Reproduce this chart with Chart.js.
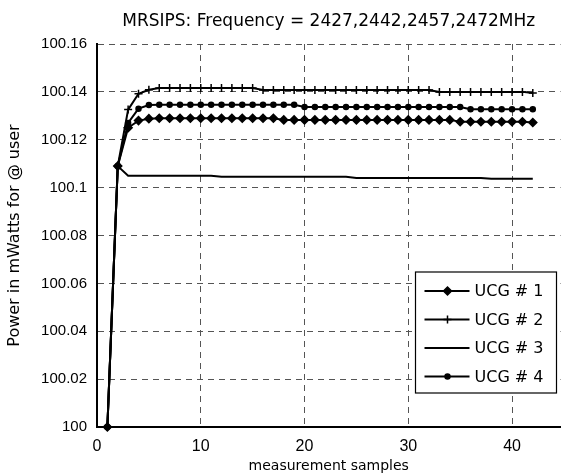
<!DOCTYPE html>
<html>
<head>
<meta charset="utf-8">
<script src="https://cdn.jsdelivr.net/npm/chart.js@4.4.1/dist/chart.umd.min.js"></script>
<style>
  html, body { margin: 0; padding: 0; background: #fff; }
  #wrap { width: 566px; height: 476px; }
</style>
</head>
<body>
<div id="wrap"><canvas id="myChart"></canvas></div>
<script>
const chartTitle = 'MRSIPS: Frequency = 2427,2442,2457,2472MHz';
const xTitle = 'measurement samples';
const yTitle = 'Power in mWatts for @ user';
const seriesNames = ['UCG # 1', 'UCG # 2', 'UCG # 3', 'UCG # 4'];
const yTickLabels = ['100', '100.02', '100.04', '100.06', '100.08', '100.1', '100.12', '100.14', '100.16'];

const samples = [1, 2, 3, 4, 5, 6, 7, 8, 9, 10, 11, 12, 13, 14, 15, 16, 17, 18, 19, 20, 21,
  22, 23, 24, 25, 26, 27, 28, 29, 30, 31, 32, 33, 34, 35, 36, 37, 38, 39, 40, 41, 42];

const ucg1 = [100, 100.109, 100.125, 100.128, 100.1288,
  100.129, 100.129, 100.129, 100.129, 100.129, 100.129, 100.129, 100.129, 100.129, 100.129, 100.129, 100.129,
  100.1283, 100.1283, 100.1283, 100.1283, 100.1283, 100.1283, 100.1283, 100.1283, 100.1283,
  100.1283, 100.1283, 100.1283, 100.1283, 100.1283, 100.1283, 100.1283, 100.1283,
  100.1275, 100.1275, 100.1275, 100.1275, 100.1275, 100.1275, 100.1275, 100.1272];

const ucg2 = [100, 100.109, 100.1326, 100.1392, 100.1409,
  100.1416, 100.1416, 100.1416, 100.1416, 100.1416, 100.1416, 100.1416, 100.1416, 100.1416, 100.1416,
  100.1408, 100.1408, 100.1408, 100.1408, 100.1408, 100.1408, 100.1408, 100.1408, 100.1408,
  100.1408, 100.1408, 100.1408, 100.1408, 100.1408, 100.1408, 100.1408, 100.1408,
  100.14, 100.14, 100.14, 100.14, 100.14, 100.14, 100.14, 100.14, 100.14, 100.1395];

const ucg3 = [100, 100.109,
  100.105, 100.105, 100.105, 100.105, 100.105, 100.105, 100.105, 100.105, 100.105,
  100.1045, 100.1045, 100.1045, 100.1045, 100.1045, 100.1045, 100.1045, 100.1045, 100.1045,
  100.1045, 100.1045, 100.1045, 100.1045,
  100.104, 100.104, 100.104, 100.104, 100.104, 100.104, 100.104, 100.104, 100.104,
  100.104, 100.104, 100.104, 100.104,
  100.1037, 100.1037, 100.1037, 100.1037, 100.1037];

const ucg4 = [100, 100.109, 100.127, 100.133, 100.1345,
  100.1346, 100.1346, 100.1346, 100.1346, 100.1346, 100.1346, 100.1346, 100.1346, 100.1346, 100.1346,
  100.1346, 100.1346, 100.1346, 100.1346,
  100.1337, 100.1337, 100.1337, 100.1337, 100.1337, 100.1337, 100.1337, 100.1337, 100.1337,
  100.1337, 100.1337, 100.1337, 100.1337, 100.1337, 100.1337, 100.1337,
  100.1327, 100.1327, 100.1327, 100.1327, 100.1327, 100.1327, 100.1327];

const textFont = '"DejaVu Sans", sans-serif';
const tickFont = '"Liberation Sans", Arial, sans-serif';

function toPoints(values) {
  return samples.map((s, i) => ({ x: s, y: values[i] }));
}

function makeSet(label, values, style, radius) {
  return {
    label: label,
    data: toPoints(values),
    borderColor: '#000',
    backgroundColor: '#000',
    borderWidth: 2,
    pointStyle: style,
    pointRadius: radius,
    pointBorderWidth: 1.5,
    pointBorderColor: '#000',
    pointBackgroundColor: '#000',
    tension: 0,
    clip: false,
  };
}

// titre et label x centrés sur la zone du graphe
const textPlugin = {
  id: 'matlabText',
  afterDraw(chart) {
    const ctx = chart.ctx;
    const area = chart.chartArea;
    const cx = (area.left + area.right) / 2;
    ctx.save();
    ctx.fillStyle = '#000';
    ctx.textAlign = 'center';
    ctx.textBaseline = 'middle';
    ctx.font = '17px ' + textFont;
    ctx.fillText(chartTitle, cx, 22);
    ctx.font = '14px ' + textFont;
    ctx.fillText(xTitle, cx, 466);
    ctx.restore();
  },
};

// légende dans un cadre en bas à droite
const boxLegend = {
  id: 'boxLegend',
  afterDraw(chart) {
    const ctx = chart.ctx;
    const area = chart.chartArea;
    const w = 141, h = 121;
    const left = area.right - 4 - w;
    const top = area.bottom - 34 - h;
    ctx.save();
    ctx.fillStyle = '#fff';
    ctx.fillRect(left, top, w, h);
    ctx.strokeStyle = '#000';
    ctx.lineWidth = 1.2;
    ctx.strokeRect(left, top, w, h);
    chart.data.datasets.forEach((ds, i) => {
      const y = top + 19 + i * 28.5;
      ctx.strokeStyle = '#000';
      ctx.lineWidth = ds.borderWidth;
      ctx.beginPath();
      ctx.moveTo(left + 9, y);
      ctx.lineTo(left + 54, y);
      ctx.stroke();
      if (ds.pointRadius > 0) {
        ctx.fillStyle = '#000';
        ctx.lineWidth = ds.pointBorderWidth;
        Chart.helpers.drawPoint(ctx, {
          pointStyle: ds.pointStyle, radius: ds.pointRadius, rotation: 0, borderWidth: ds.pointBorderWidth,
        }, left + 32, y);
      }
      ctx.fillStyle = '#000';
      ctx.font = '16px ' + textFont;
      ctx.textAlign = 'left';
      ctx.textBaseline = 'middle';
      ctx.fillText(ds.label, left + 59, y + 1);
    });
    ctx.restore();
  },
};

const ctx = document.getElementById('myChart');

const myChart = new Chart(ctx, {
  type: 'line',
  data: {
    datasets: [
      makeSet(seriesNames[0], ucg1, 'rectRot', 4),
      makeSet(seriesNames[1], ucg2, 'cross', 4),
      makeSet(seriesNames[2], ucg3, false, 0),
      makeSet(seriesNames[3], ucg4, 'circle', 2.5),
    ],
  },
  options: {
    animation: false,
    responsive: true,
    maintainAspectRatio: false,
    layout: { padding: { top: 44, right: 0, bottom: 0, left: 0 } },
    plugins: {
      legend: { display: false },
      title: { display: false },
      tooltip: { enabled: false },
    },
    scales: {
      x: {
        type: 'linear',
        min: 0,
        max: 44.67,
        afterFit(scale) { scale.height = 49; },
        ticks: {
          stepSize: 10,
          includeBounds: false,
          maxRotation: 0,
          color: '#000',
          padding: 10,
          font: { family: tickFont, size: 16 },
        },
        grid: { color: '#555', lineWidth: 1, drawTicks: false },
        border: { display: true, color: '#000', width: 2, dash: [6, 5] },
      },
      y: {
        min: 100,
        max: 100.16,
        afterFit(scale) { scale.width = 97; },
        ticks: {
          stepSize: 0.02,
          color: '#000',
          padding: 10,
          font: { family: tickFont, size: 15 },
          callback: function (v) { return yTickLabels[Math.round((v - 100) / 0.02)]; },
        },
        title: {
          display: true,
          text: yTitle,
          color: '#000',
          font: { family: textFont, size: 16 },
          padding: { top: 5, bottom: 0 },
        },
        grid: { color: '#555', lineWidth: 1, drawTicks: false },
        border: { display: true, color: '#000', width: 2, dash: [6, 5] },
      },
    },
  },
  plugins: [textPlugin, boxLegend],
});
</script>
</body>
</html>
